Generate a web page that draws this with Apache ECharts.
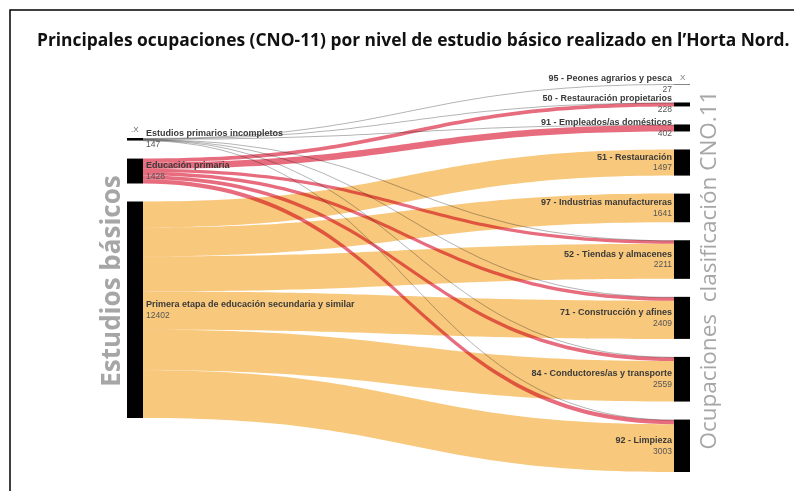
<!DOCTYPE html>
<html>
<head>
    <meta charset="utf-8">
    <title>Ocupaciones por nivel de estudio - Horta Nord</title>
    <script src="https://cdn.jsdelivr.net/npm/echarts/dist/echarts.min.js"></script>
    <style>
        html, body { margin: 0; padding: 0; background: #fff; }
        #main { width: 794px; height: 491px; }
    </style>
</head>
<body>
<div id="main"></div>
<script type="text/javascript">
    // nivel de estudios (columna izquierda)
    var estudios = ['Estudios primarios incompletos', 'Educación primaria',
        'Primera etapa de educación secundaria y similar'];
    var estudiosTotal = [147, 1428, 12402];

    // ocupaciones CNO-11 (columna derecha)
    var ocupaciones = ['95 - Peones agrarios y pesca', '50 - Restauración propietarios',
        '91 - Empleados/as domésticos', '51 - Restauración', '97 - Industrias manufactureras',
        '52 - Tiendas y almacenes', '71 - Construcción y afines',
        '84 - Conductores/as y transporte', '92 - Limpieza'];
    var ocupacionesTotal = [27, 228, 402, 1497, 1641, 2211, 2409, 2559, 3003];

    // flujos de cada nivel hacia cada ocupacion (mismo orden que ocupaciones)
    var desdeIncompletos = [27, 20, 25, 0, 0, 15, 20, 20, 20];
    var desdePrimaria = [0, 208, 377, 0, 0, 180, 200, 215, 248];
    var desdeSecundaria = [0, 0, 0, 1497, 1641, 2016, 2189, 2324, 2735];
    var flujos = [desdeIncompletos, desdePrimaria, desdeSecundaria];

    var coloresFlujo = ['#b4b4b4', '#e66c7e', '#f8c87c'];

    var top_ = 84, bottom_ = 19, gap = 18;
    var H = 491 - top_ - bottom_;

    function suma(a) { return a.reduce(function (s, v) { return s + v; }, 0); }

    // columna izquierda centrada verticalmente respecto a la derecha
    var ky = Math.min((H - (ocupaciones.length - 1) * gap) / suma(ocupacionesTotal),
        (H - (estudios.length - 1) * gap) / suma(estudiosTotal));
    var y = (H - (suma(estudiosTotal) * ky + (estudios.length - 1) * gap)) / 2;

    function etiqueta(pos) {
        var al = pos === 'right' ? 'left' : 'right';
        return {
            show: true,
            position: pos,
            distance: pos === 'right' ? 3 : 2,
            formatter: function (p) { return '{n|' + p.name + '}\n{v|' + p.value + '}'; },
            rich: {
                n: {fontSize: 9, fontWeight: 'bold', color: '#3a3a3a', lineHeight: 11,
                    fontFamily: 'Liberation Sans', align: al},
                v: {fontSize: 8.5, color: '#555', lineHeight: 11,
                    fontFamily: 'Liberation Sans', align: al}
            }
        };
    }

    var nodos = [];
    estudios.forEach(function (n, i) {
        nodos.push({name: n, value: estudiosTotal[i], depth: 0, localY: y / H, label: etiqueta('right')});
        y += estudiosTotal[i] * ky + gap;
    });
    ocupaciones.forEach(function (n, i) {
        nodos.push({name: n, value: ocupacionesTotal[i], depth: 1, label: etiqueta('left')});
    });

    var enlaces = [];
    flujos.forEach(function (fila, i) {
        fila.forEach(function (v, j) {
            if (v > 0) {
                enlaces.push({source: estudios[i], target: ocupaciones[j], value: v,
                    lineStyle: {color: coloresFlujo[i], opacity: 1}});
            }
        });
    });

    var myChart = echarts.init(document.getElementById('main'));

    var option = {
        animation: false,
        title: {
            text: 'Principales ocupaciones (CNO-11) por nivel de estudio básico realizado en l\u2019Horta Nord.',
            left: 32,
            top: 28,
            textStyle: {fontFamily: 'Open Sans', fontWeight: 'bold', fontSize: 17.4, color: '#111'}
        },
        graphic: [
            {type: 'rect', silent: true, shape: {x: 10, y: 10, width: 800, height: 500},
                style: {fill: 'none', stroke: '#000', lineWidth: 1.5}},
            {type: 'text', silent: true, x: 113, y: 281, rotation: Math.PI / 2,
                style: {text: 'Estudios básicos', fill: '#a6a6a6', font: 'bold 26px "Open Sans"',
                    align: 'center', verticalAlign: 'middle'}},
            {type: 'text', silent: true, x: 710, y: 270, rotation: Math.PI / 2,
                style: {text: 'Ocupaciones  clasificación CNO.11', fill: '#a6a6a6',
                    font: '22.5px "Open Sans"', align: 'center', verticalAlign: 'middle'}},
            {type: 'text', silent: true, x: 131, y: 126,
                style: {text: '.X', fill: '#666', font: '8px "Liberation Sans"'}},
            {type: 'text', silent: true, x: 680, y: 74,
                style: {text: 'X', fill: '#777', font: '8px "Liberation Sans"'}}
        ],
        series: [{
            type: 'sankey',
            left: 127,
            right: 104,
            top: top_,
            bottom: bottom_,
            nodeWidth: 16,
            nodeGap: gap,
            layoutIterations: 0,
            draggable: false,
            emphasis: {disabled: true},
            itemStyle: {color: '#000', borderWidth: 0},
            lineStyle: {curveness: 0.5},
            data: nodos,
            links: enlaces
        }]
    };
    myChart.setOption(option);

    // los flujos se mezclan en modo multiplicar, como en el original
    var zr = myChart.getZr();
    zr.storage.getDisplayList(true).forEach(function (el) {
        if (el.shape && el.shape.cpx1 !== undefined) {
            el.style.blend = 'multiply';
            el.markRedraw();
        }
    });
    zr.refresh();
</script>
</body>
</html>
